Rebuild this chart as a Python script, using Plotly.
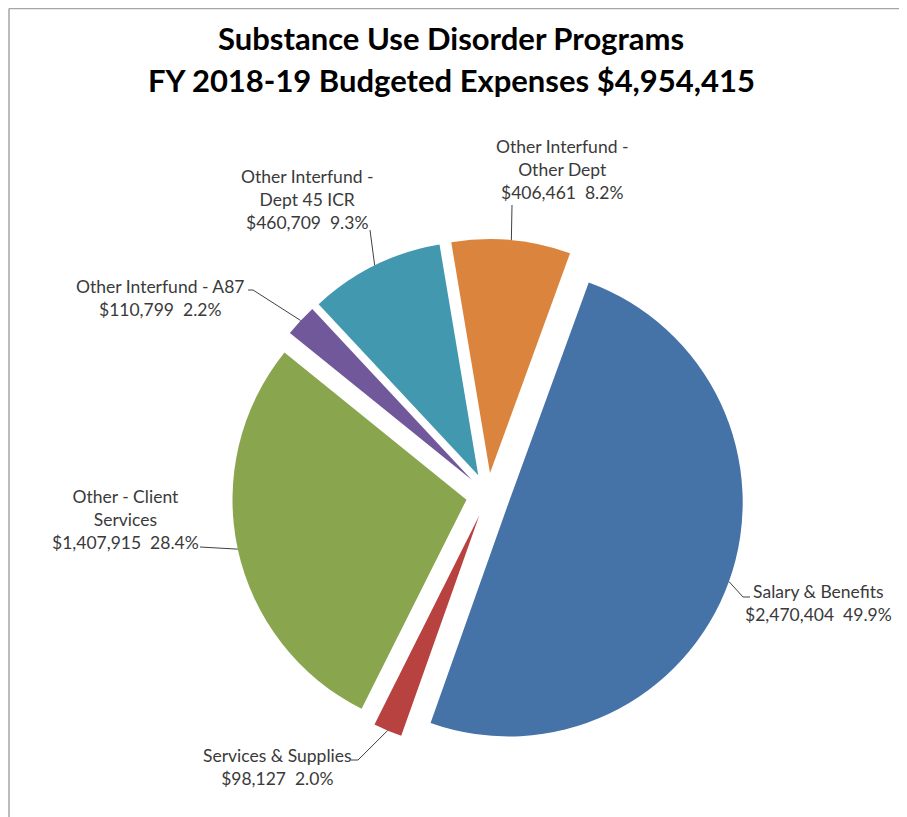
import math
import plotly.graph_objects as go

# ---- data ----
categories = ["Salary & Benefits", "Services & Supplies", "Other - Client Services",
              "Other Interfund - A87", "Other Interfund - Dept 45 ICR", "Other Interfund - Other Dept"]
values = [2470404, 98127, 1407915, 110799, 460709, 406461]
label_lines = [["Salary & Benefits"], ["Services & Supplies"], ["Other - Client", "Services"],
               ["Other Interfund - A87"], ["Other Interfund -", "Dept 45 ICR"],
               ["Other Interfund -", "Other Dept"]]
title_lines = ["Substance Use Disorder Programs", "FY 2018-19 Budgeted Expenses $4,954,415"]

# ---- style / layout ----
colors = ["#4572A7", "#B8423F", "#89A54E", "#71589A", "#4198AF", "#DB843D"]
W, H = 907, 817
OFF = 8                    # page body margin in the browser
CX, CY = 488, 495          # pie centre (screen px)
R = 234                    # pie radius px
PULL = 0.094
ROT = 20
FONT = "Lato"
# label block centres (screen px) and leader-line label-side points
label_pos = [(818, 603), (277, 767), (125, 519), (160, 298), (307, 199), (562, 169)]
leader_pts = [[(743, 597), (750, 597)], [(358, 760), (351, 760)], [(200, 547)],
              [(253, 290), (248, 290)], [(370, 230)], [(512, 205)]]

def px(x, y):
    return (x - OFF) / W, 1 - (y - OFF) / H

total = sum(values)
half = R * (1 + PULL)
x0, y0 = px(CX - half, CY + half)
x1, y1 = px(CX + half, CY - half)

fig = go.Figure(go.Pie(
    labels=categories, values=values, sort=False, direction="clockwise",
    rotation=ROT, pull=[PULL] * len(values), marker=dict(colors=colors),
    textinfo="none", hoverinfo="none", showlegend=False,
    domain=dict(x=[x0, x1], y=[y0, y1]),
))

annotations = []
shapes = []
start = ROT
for i, v in enumerate(values):
    frac = v / total
    mid = math.radians(start + frac * 180)
    start += frac * 360
    pcx = CX + PULL * R * math.sin(mid)
    pcy = CY - PULL * R * math.cos(mid)
    ax = pcx + R * math.sin(mid)
    ay = pcy - R * math.cos(mid)
    pts = [(ax, ay)] + leader_pts[i]
    for (xa, ya), (xb, yb) in zip(pts[:-1], pts[1:]):
        xa_, ya_ = px(xa, ya)
        xb_, yb_ = px(xb, yb)
        shapes.append(dict(type="line", xref="paper", yref="paper", x0=xa_, y0=ya_,
                           x1=xb_, y1=yb_, line=dict(color="#404040", width=1)))
    text = "<br>".join(label_lines[i] + [f"${v:,}  {frac*100:.1f}%"])
    lx, ly = px(*label_pos[i])
    annotations.append(dict(text=text, x=lx, y=ly, xref="paper", yref="paper",
                            xanchor="center", yanchor="middle", showarrow=False,
                            align="center", font=dict(family=FONT, size=17.5, color="#3A3A3A")))

for j, (t, yy) in enumerate(zip(title_lines, [38, 80])):
    tx, ty = px(451, yy)
    annotations.append(dict(text=f"<b>{t}</b>", x=tx, y=ty, xref="paper", yref="paper",
                            xanchor="center", yanchor="middle", showarrow=False,
                            font=dict(family=FONT, size=31, color="#000000")))

# frame lines
fx, fy = px(9, 8.5)
shapes.append(dict(type="line", xref="paper", yref="paper", x0=fx, x1=1, y0=fy,
                   y1=fy, line=dict(color="#A6A6A6", width=1.5)))
shapes.append(dict(type="line", xref="paper", yref="paper", x0=fx, x1=fx, y0=0,
                   y1=fy, line=dict(color="#A6A6A6", width=1.5)))

fig.update_layout(width=W, height=H, margin=dict(l=0, r=0, t=0, b=0),
                  paper_bgcolor="white", plot_bgcolor="white",
                  annotations=annotations, shapes=shapes)
fig.write_html("out.html")
